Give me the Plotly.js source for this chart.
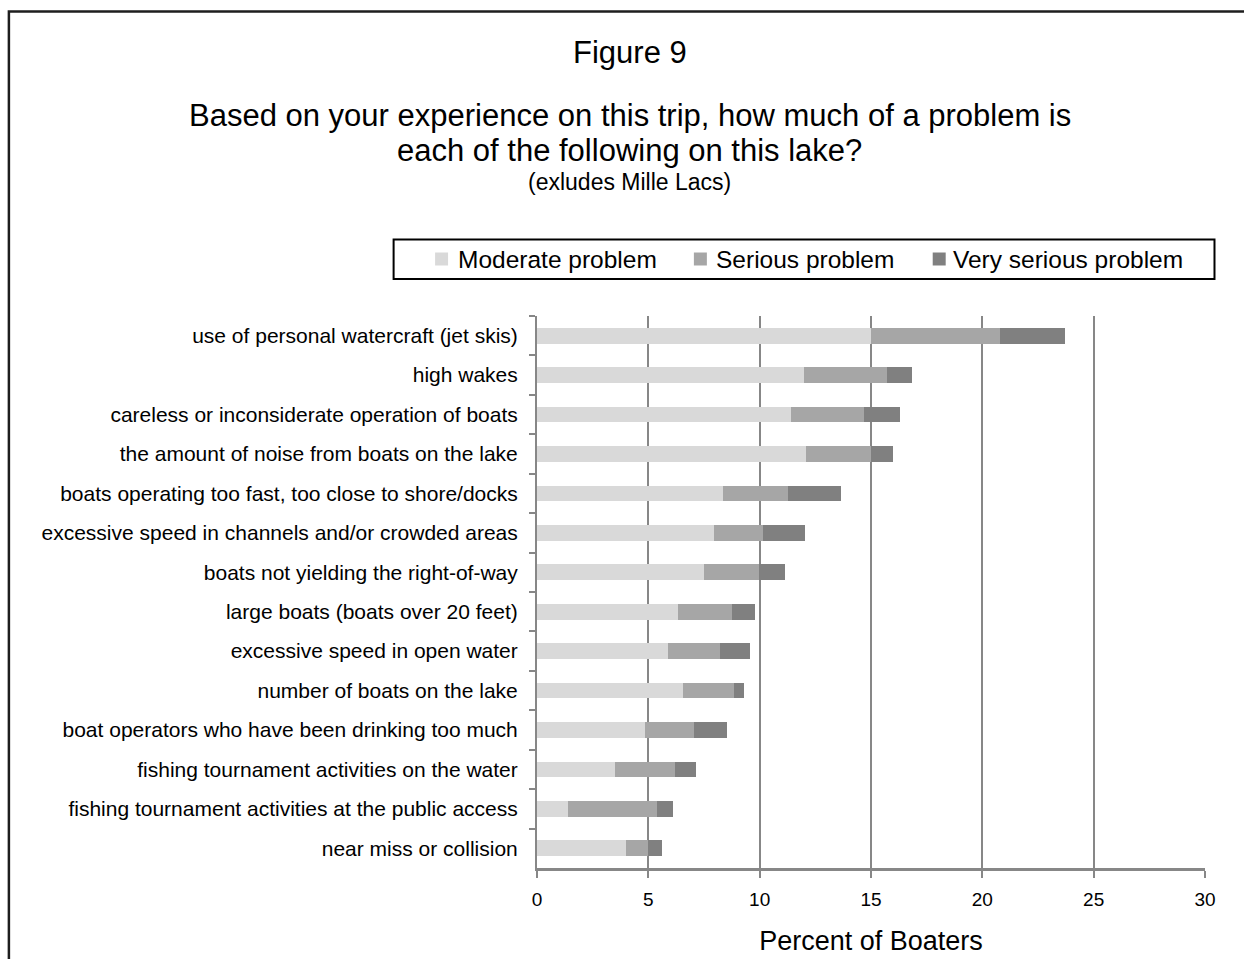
<!DOCTYPE html>
<html>
<head>
<meta charset="utf-8">
<script src="https://cdn.plot.ly/plotly-3.0.1.min.js"></script>
<style>
  html, body { margin: 0; padding: 0; background: #ffffff; }
  #chart { width: 1244px; height: 959px; }
</style>
</head>
<body>
<div id="chart"></div>
<script>
// Survey items, listed top to bottom
const categories = [
  'use of personal watercraft (jet skis)',
  'high wakes',
  'careless or inconsiderate operation of boats',
  'the amount of noise from boats on the lake',
  'boats operating too fast, too close to shore/docks',
  'excessive speed in channels and/or crowded areas',
  'boats not yielding the right-of-way',
  'large boats (boats over 20 feet)',
  'excessive speed in open water',
  'number of boats on the lake',
  'boat operators who have been drinking too much',
  'fishing tournament activities on the water',
  'fishing tournament activities at the public access',
  'near miss or collision'
];

// Percent of boaters per rating
const moderate    = [15.0, 12.0, 11.4, 12.1, 8.35, 7.95, 7.5, 6.35, 5.9, 6.55, 4.85, 3.5, 1.4, 4.0];
const serious     = [5.8, 3.7, 3.3, 2.9, 2.9, 2.2, 2.45, 2.4, 2.3, 2.3, 2.2, 2.7, 4.0, 1.0];
const verySerious = [2.9, 1.15, 1.6, 1.0, 2.4, 1.9, 1.2, 1.05, 1.35, 0.45, 1.5, 0.95, 0.7, 0.6];

const seriesNames  = ['Moderate problem', 'Serious problem', 'Very serious problem'];
const seriesColors = ['#d9d9d9', '#a6a6a6', '#808080'];
const xTickValues  = [0, 5, 10, 15, 20, 25, 30];

const FONT = '"Liberation Sans", Arial, sans-serif';

// Figure size and plot-area edges in pixels
const W = 1244, H = 959;
const PL = 537, PR = 1205.5, PT = 316, PB = 868;
const px = x => (x - PL) / (PR - PL);
const py = y => (PB - y) / (PB - PT);

const seriesValues = [moderate, serious, verySerious];
const traces = seriesValues.map((vals, i) => ({
  type: 'bar',
  orientation: 'h',
  name: seriesNames[i],
  x: vals,
  y: categories,
  marker: { color: seriesColors[i], line: { width: 0 } },
  hoverinfo: 'x+y+name'
}));

const gridGray = '#878787';

// Legend key: boxed row of swatches and labels above the plot
const legendSwatchLeft = [435, 694, 933];
const legendTextLeft   = [456, 714, 951];
const legendMidY = 259, swatch = 13;

const legendShapes = seriesNames.map((name, i) => ({
  type: 'rect', xref: 'paper', yref: 'paper', layer: 'above',
  x0: px(legendSwatchLeft[i]), x1: px(legendSwatchLeft[i] + swatch),
  y0: py(legendMidY + swatch / 2), y1: py(legendMidY - swatch / 2),
  line: { width: 0 }, fillcolor: seriesColors[i]
}));

const legendLabels = seriesNames.map((name, i) => ({
  text: name, xref: 'paper', yref: 'paper',
  x: px(legendTextLeft[i]), y: py(legendMidY),
  xanchor: 'left', yanchor: 'middle', showarrow: false,
  font: { family: FONT, size: 24.5, color: '#000000' }
}));

const layout = {
  width: W,
  height: H,
  autosize: false,
  paper_bgcolor: '#ffffff',
  plot_bgcolor: '#ffffff',
  margin: { l: PL, r: W - PR, t: PT, b: H - PB, pad: 0 },
  barmode: 'stack',
  bargap: 0.6,
  font: { family: FONT, color: '#000000' },
  showlegend: false,
  xaxis: {
    range: [0, 30],
    tickmode: 'array',
    tickvals: xTickValues,
    ticktext: xTickValues.map(String),
    showgrid: true,
    gridcolor: gridGray,
    gridwidth: 2,
    zeroline: false,
    showline: true,
    linecolor: gridGray,
    linewidth: 2.5,
    ticks: 'outside',
    ticklen: 7,
    tickwidth: 2,
    tickcolor: gridGray,
    ticklabelstandoff: 6,
    tickfont: { family: FONT, size: 19, color: '#000000' },
    title: {
      text: 'Percent of Boaters',
      font: { family: FONT, size: 27, color: '#000000' },
      standoff: 22
    },
    fixedrange: true
  },
  yaxis: {
    type: 'category',
    autorange: 'reversed',
    showgrid: false,
    zeroline: false,
    showline: true,
    linecolor: gridGray,
    linewidth: 2,
    ticks: 'outside',
    tickson: 'boundaries',
    ticklen: 6,
    tickwidth: 2,
    tickcolor: gridGray,
    ticklabelstandoff: 13,
    tickfont: { family: FONT, size: 21, color: '#000000' },
    fixedrange: true
  },
  shapes: [
    // outer frame
    {
      type: 'rect', xref: 'paper', yref: 'paper', layer: 'above',
      x0: px(8.5), x1: px(1260), y0: py(980), y1: py(11.5),
      line: { color: '#1e1e1e', width: 2.5 }, fillcolor: 'rgba(0,0,0,0)'
    },
    // legend box
    {
      type: 'rect', xref: 'paper', yref: 'paper', layer: 'above',
      x0: px(393.5), x1: px(1215), y0: py(279), y1: py(239.5),
      line: { color: '#000000', width: 2 }, fillcolor: 'rgba(0,0,0,0)'
    }
  ].concat(legendShapes),
  annotations: [
    {
      text: 'Figure 9', xref: 'paper', yref: 'paper',
      x: px(630), y: py(52), xanchor: 'center', yanchor: 'middle',
      showarrow: false, font: { family: FONT, size: 31, color: '#000000' }
    },
    {
      text: 'Based on your experience on this trip, how much of a problem is',
      xref: 'paper', yref: 'paper',
      x: px(630), y: py(115), xanchor: 'center', yanchor: 'middle',
      showarrow: false, font: { family: FONT, size: 31, color: '#000000' }
    },
    {
      text: 'each of the following on this lake?',
      xref: 'paper', yref: 'paper',
      x: px(630), y: py(150), xanchor: 'center', yanchor: 'middle',
      showarrow: false, font: { family: FONT, size: 31, color: '#000000' }
    },
    {
      text: '(exludes Mille Lacs)', xref: 'paper', yref: 'paper',
      x: px(630), y: py(182), xanchor: 'center', yanchor: 'middle',
      showarrow: false, font: { family: FONT, size: 23, color: '#000000' }
    }
  ].concat(legendLabels)
};

Plotly.newPlot('chart', traces, layout, { displayModeBar: false, staticPlot: true });
</script>
</body>
</html>
